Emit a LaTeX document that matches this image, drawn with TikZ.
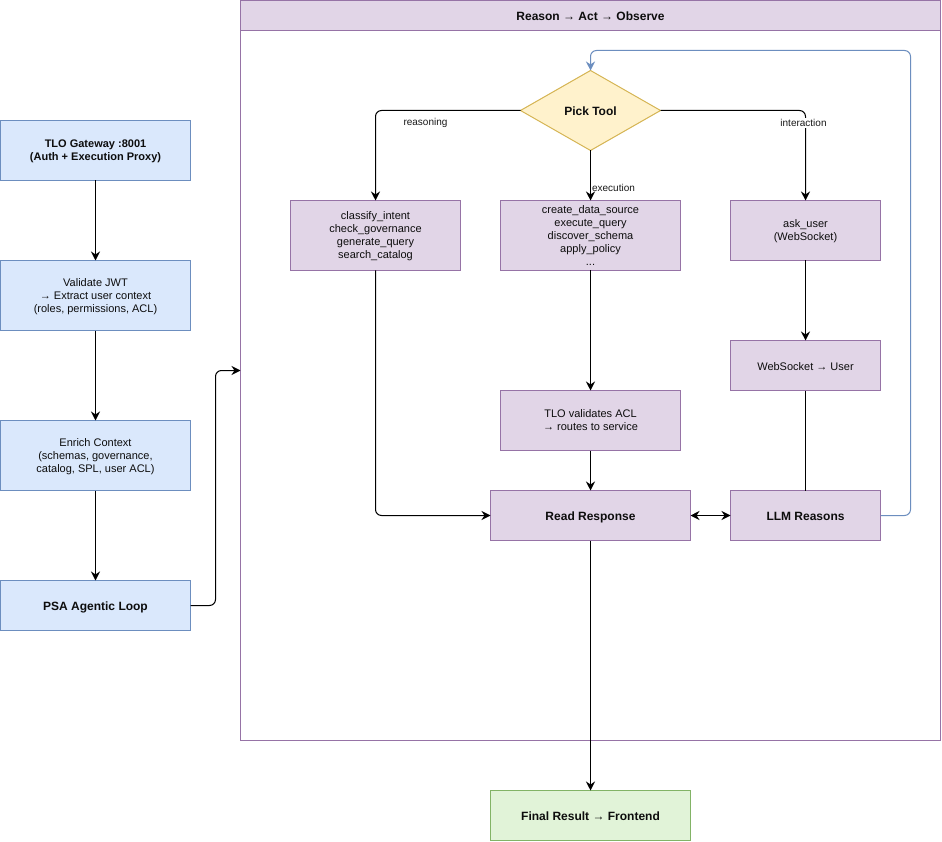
\documentclass[tikz,border=0pt]{standalone}
\usepackage{fontspec}
\setmainfont{Liberation Sans}
\usetikzlibrary{arrows.meta,shapes.geometric}
\tikzset{
  base/.style={draw,line width=1pt,inner sep=0pt,outer sep=0pt,align=center,text depth=0pt,execute at begin node={\rule{0pt}{10pt}},font=\fontsize{11}{13}\selectfont,text=black!95},
  bluebox/.style={base,rectangle,fill=blueF,draw=blueD},
  purplebox/.style={base,rectangle,fill=purpF,draw=purpD},
  boldtxt/.style={font=\fontsize{12}{14}\selectfont\bfseries},
  boldsmall/.style={font=\fontsize{11}{13}\selectfont\bfseries},
  lowered/.style={execute at end node={\\[-2pt]}},
  tip/.tip={Stealth[length=9pt,width=9pt,inset=3pt]},
  edge/.style={draw=black,line width=1pt,rounded corners=6pt,-tip},
  edgelabel/.style={font=\fontsize{10}{12}\selectfont,inner sep=1pt,text=black!90}
}
\definecolor{blueF}{HTML}{DAE8FC}\definecolor{blueD}{HTML}{6C8EBF}
\definecolor{purpF}{HTML}{E1D5E7}\definecolor{purpD}{HTML}{9673A6}
\definecolor{yelF}{HTML}{FFF2CC}\definecolor{yelD}{HTML}{D6B656}
\definecolor{grnF}{HTML}{E1F3D8}\definecolor{grnD}{HTML}{82B366}
\begin{document}
\begin{tikzpicture}[x=1pt,y=-1pt]
\useasboundingbox (0,0) rectangle (942,842);
% containers
\node[purplebox,fill=white,minimum width=700pt,minimum height=740pt] (outer) at (590.5,370.5) {};
\node[purplebox,boldtxt,minimum width=700pt,minimum height=30pt] (hdr) at (590.5,15.5) {Reason → Act → Observe};
% left column
\node[bluebox,boldsmall,lowered,minimum width=190pt,minimum height=60pt] (gw) at (95.5,150.5) {TLO Gateway :8001\\(Auth + Execution Proxy)};
\node[bluebox,lowered,minimum width=190pt,minimum height=70pt] (jwt) at (95.5,295.5) {Validate JWT\\→ Extract user context\\(roles, permissions, ACL)};
\node[bluebox,lowered,minimum width=190pt,minimum height=70pt] (enr) at (95.5,455.5) {Enrich Context\\(schemas, governance,\\catalog, SPL, user ACL)};
\node[bluebox,boldtxt,minimum width=190pt,minimum height=50pt] (psa) at (95.5,605.5) {PSA Agentic Loop};
% loop
\node[base,diamond,aspect=1.75,fill=yelF,draw=yelD,boldtxt,minimum width=140pt,minimum height=80pt] (pick) at (590.5,110.5) {Pick Tool};
\node[purplebox,lowered,minimum width=170pt,minimum height=70pt] (reas) at (375.5,235.5) {classify\_intent\\check\_governance\\generate\_query\\search\_catalog};
\node[purplebox,lowered,minimum width=180pt,minimum height=70pt] (exec) at (590.5,235.5) {create\_data\_source\\execute\_query\\discover\_schema\\apply\_policy\\...};
\node[purplebox,lowered,minimum width=150pt,minimum height=60pt] (ask) at (805.5,230.5) {ask\_user\\(WebSocket)};
\node[purplebox,minimum width=150pt,minimum height=50pt] (ws) at (805.5,365.5) {WebSocket → User};
\node[purplebox,lowered,minimum width=180pt,minimum height=60pt] (acl) at (590.5,420.5) {TLO validates ACL\\→ routes to service};
\node[purplebox,boldtxt,minimum width=200pt,minimum height=50pt] (read) at (590.5,515.5) {Read Response};
\node[purplebox,boldtxt,minimum width=150pt,minimum height=50pt] (llm) at (805.5,515.5) {LLM Reasons};
\node[base,rectangle,fill=grnF,draw=grnD,boldtxt,minimum width=200pt,minimum height=50pt] (final) at (590.5,815.5) {Final Result → Frontend};
\coordinate (psabend) at (215.5,370.5);
\coordinate (loopbend) at (910.5,50.5);
% edges
\draw[edge] (gw) -- (jwt);
\draw[edge] (jwt) -- (enr);
\draw[edge] (enr) -- (psa);
\draw[edge] (psa.east) -| (psabend) -- (outer.west);
\draw[edge] (pick.west) -| (reas.north);
\draw[edge] (pick.south) -- (exec.north);
\draw[edge] (pick.east) -| (ask.north);
\draw[edge] (ask) -- (ws);
\draw[edge] (exec) -- (acl);
\draw[edge] (acl) -- (read);
\draw[edge] (reas.south) |- (read.west);
\draw[edge,-] (ws) -- (llm);
\draw[edge,tip-tip] (read) -- (llm);
\draw[edge] (read) -- (final);
\draw[edge,draw=blueD] (llm.east) -| (loopbend) -| (pick.north);
% labels
\node[edgelabel] (lr) at (425.5,123) {reasoning};
\node[edgelabel] (le) at (613.5,188) {execution};
\node[edgelabel,fill=white] (li) at (803.5,123) {interaction};
\end{tikzpicture}
\end{document}
